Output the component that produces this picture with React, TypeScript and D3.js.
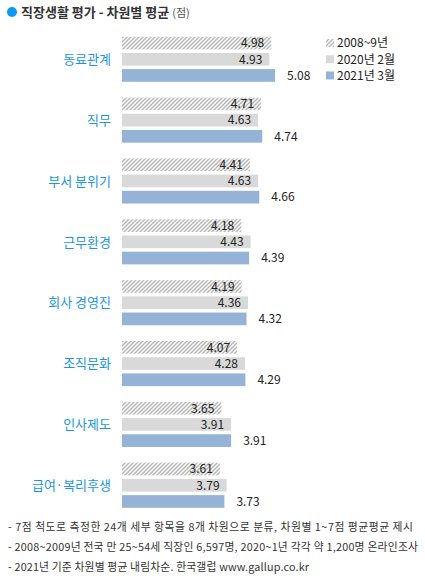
import React from "react";
import * as d3 from "d3";

const categories = ["동료관계", "직무", "부서 분위기", "근무환경", "회사 경영진", "조직문화", "인사제도", "급여·복리후생"];
const seriesNames = ["2008~9년", "2020년 2월", "2021년 3월"];
const values2008 = [4.98, 4.71, 4.41, 4.18, 4.19, 4.07, 3.65, 3.61];
const values2020 = [4.93, 4.63, 4.63, 4.43, 4.36, 4.28, 3.91, 3.79];
const values2021 = [5.08, 4.74, 4.66, 4.39, 4.32, 4.29, 3.91, 3.73];
const footnotes = [
  "- 7점 척도로 측정한 24개 세부 항목을 8개 차원으로 분류, 차원별 1~7점 평균평균 제시",
  "- 2008~2009년 전국 만 25~54세 직장인 6,597명, 2020~1년 각각 약 1,200명 온라인조사",
  "- 2021년 기준 차원별 평균 내림차순. 한국갤럽 www.gallup.co.kr",
];
const footnoteWidths = [405, 410, 301];

const W = 425;
const H = 580;
const FONT = "'Noto Sans CJK KR', 'Noto Sans', sans-serif";
const fills = ["url(#hatch)", "#d9d9d9", "#95b3d7"];
const seriesValues = [values2008, values2020, values2021];

export default function App() {
  const x = d3.scaleLinear().domain([1, 7]).range([122, 347]);
  const groupBand = 45.1;
  const y = d3
    .scaleBand<string>()
    .domain(categories)
    .range([36.7, 36.7 + 7 * 60.86 + groupBand])
    .paddingInner(1 - groupBand / 60.86)
    .paddingOuter(0);
  const ys = d3
    .scaleBand<string>()
    .domain(seriesNames)
    .range([0, y.bandwidth()])
    .paddingInner(0.216)
    .paddingOuter(0);

  return (
    <svg
      width={W}
      height={H}
      style={{ position: "absolute", left: 0, top: 0, background: "#fff" }}
      fontFamily={FONT}
    >
      <defs>
        <pattern id="hatch" patternUnits="userSpaceOnUse" width="4" height="4">
          <rect width="4" height="4" fill="#ffffff" />
          <path d="M-1,1 l2,-2 M0,4 l4,-4 M3,5 l2,-2" stroke="#b5b5b5" strokeWidth="1.4" />
        </pattern>
      </defs>
      <rect width={W} height={H} fill="#fff" />
      {/* title */}
      <circle cx={12} cy={12} r={5} fill="#0a9bf0" />
      <text x={21} y={17} fontSize={13} fontWeight="bold" fill="#333">
        직장생활 평가 - 차원별 평균
        <tspan fontSize={11} fontWeight="normal" fill="#555" dx={3}>
          (점)
        </tspan>
      </text>

      {/* legend */}
      {seriesNames.map((s, i) => {
        const cy = (y(categories[0]) as number) + (ys(s) as number) + ys.bandwidth() / 2;
        return (
          <g key={s}>
            <rect x={326} y={cy - 4} width={8} height={8} fill={fills[i]} />
            <text x={337} y={cy} dy="0.36em" fontSize={12} fill="#222">
              {s}
            </text>
          </g>
        );
      })}

      {categories.map((c, ci) => {
        const gy = y(c) as number;
        return (
          <g key={c}>
            <text
              x={111}
              y={gy + (ys(seriesNames[1]) as number) + ys.bandwidth() / 2}
              dy="0.36em"
              textAnchor="end"
              fontSize={13}
              fill="#1a96e0"
            >
              {c}
            </text>
            {seriesNames.map((s, si) => {
              const v = seriesValues[si][ci];
              const by = gy + (ys(s) as number);
              const xe = x(v);
              const inside = si < 2;
              return (
                <g key={s}>
                  <rect x={x(1)} y={by} width={xe - x(1)} height={ys.bandwidth()} fill={fills[si]} />
                  <text
                    x={inside ? xe - 7 : xe + 12}
                    y={by + ys.bandwidth() / 2}
                    dy="0.36em"
                    textAnchor={inside ? "end" : "start"}
                    fontSize={12}
                    fill="#222"
                  >
                    {v.toFixed(2)}
                  </text>
                </g>
              );
            })}
          </g>
        );
      })}

      {footnotes.map((f, i) => (
        <text
          key={i}
          x={8}
          y={531 + i * 20}
          fontSize={10.8}
          fill="#333"
          textLength={footnoteWidths[i]}
          lengthAdjust="spacing"
        >
          {f}
        </text>
      ))}
    </svg>
  );
}
